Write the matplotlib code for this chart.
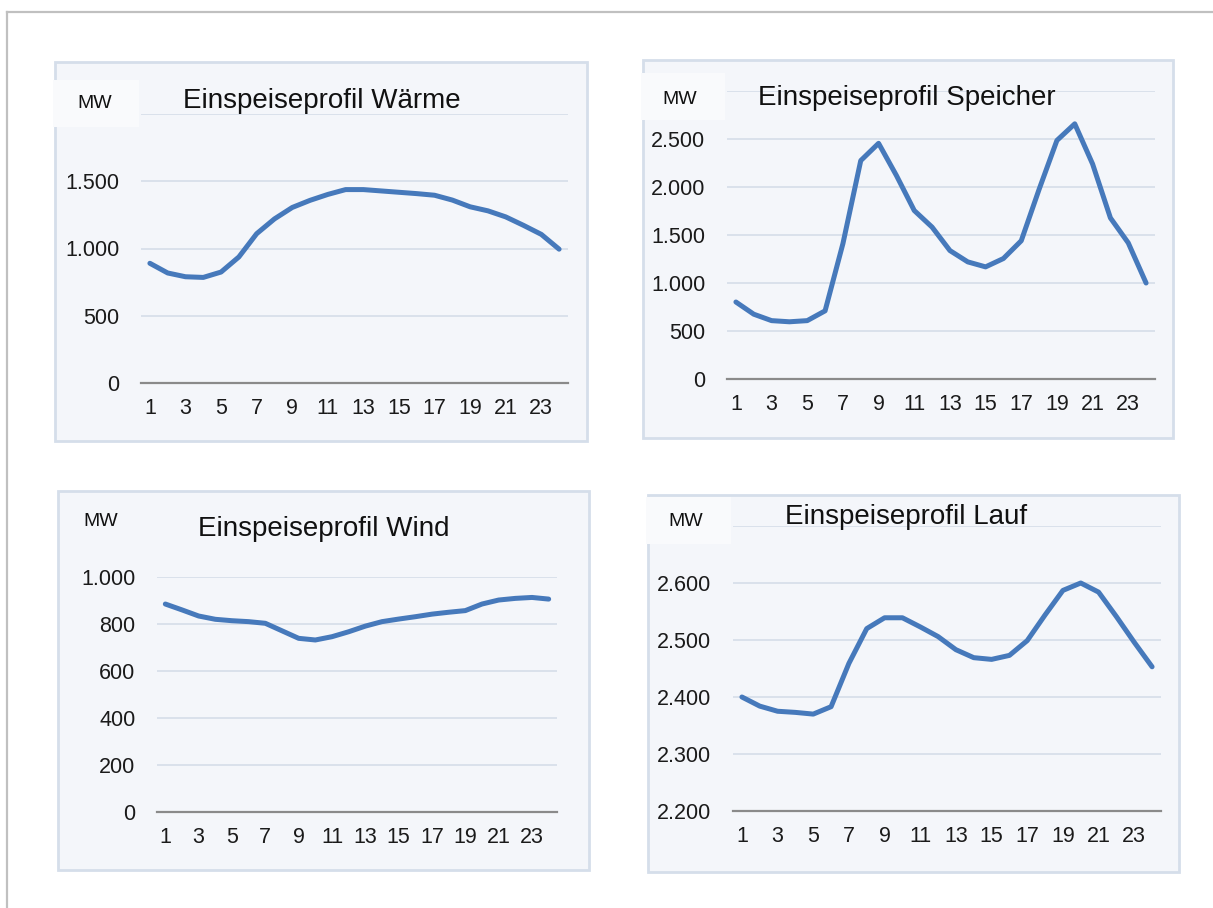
import matplotlib
matplotlib.use("Agg")
import matplotlib.pyplot as plt
from matplotlib.patches import Rectangle
from matplotlib.lines import Line2D

plt.rcParams['font.family'] = ['Liberation Sans', 'DejaVu Sans']

# ---------------- data ----------------
hours = list(range(1, 25))
hour_ticks = [1, 3, 5, 7, 9, 11, 13, 15, 17, 19, 21, 23]
hour_labels = [str(h) for h in hour_ticks]

waerme = [890, 818, 790, 785, 825, 937, 1110, 1220, 1305, 1358, 1402, 1438,
          1438, 1428, 1418, 1408, 1396, 1360, 1310, 1280, 1235, 1172, 1105, 995]
speicher = [802, 675, 608, 596, 608, 710, 1410, 2275, 2455, 2120, 1755, 1582,
            1338, 1220, 1168, 1255, 1440, 1975, 2485, 2658, 2240, 1678, 1418, 1000]
wind = [885, 860, 834, 820, 814, 810, 803, 771, 739, 732, 746, 767,
        791, 810, 821, 831, 842, 850, 857, 885, 902, 909, 913, 906]
lauf = [2400, 2384, 2375, 2373, 2370, 2383, 2459, 2520, 2539, 2539, 2523, 2506,
        2483, 2469, 2466, 2473, 2499, 2544, 2587, 2600, 2584, 2541, 2496, 2453]

titles = ["Einspeiseprofil Wärme", "Einspeiseprofil Speicher",
          "Einspeiseprofil Wind", "Einspeiseprofil Lauf"]
unit = "MW"

waerme_yticks = [0, 500, 1000, 1500, 2000]
waerme_ylabels = ["0", "500", "1.000", "1.500", ""]
speicher_yticks = [0, 500, 1000, 1500, 2000, 2500, 3000]
speicher_ylabels = ["0", "500", "1.000", "1.500", "2.000", "2.500", ""]
wind_yticks = [0, 200, 400, 600, 800, 1000]
wind_ylabels = ["0", "200", "400", "600", "800", "1.000"]
lauf_yticks = [2200, 2300, 2400, 2500, 2600, 2700]
lauf_ylabels = ["2.200", "2.300", "2.400", "2.500", "2.600", ""]

# ---------------- layout (pixels) ----------------
W, H = 1213, 908
fig = plt.figure(figsize=(W / 100, H / 100), dpi=100)
fig.patch.set_facecolor("white")

def frac_rect(x0, y0, x1, y1):
    return [x0 / W, 1 - y1 / H, (x1 - x0) / W, (y1 - y0) / H]

LINE_C = "#4679bb"
GRID_C = "#d3dbe7"
AXIS_C = "#8a8a8a"
PANEL_BG = "#f4f6fa"
PANEL_EDGE = "#d5deea"

# outer frame lines
fig.add_artist(Line2D([7 / W, 1], [1 - 11.5 / H, 1 - 11.5 / H], color="#c0c0c0", lw=1.6,
                      transform=fig.transFigure, zorder=-3))
fig.add_artist(Line2D([7 / W, 7 / W], [0, 1 - 11.5 / H], color="#c0c0c0", lw=1.6,
                      transform=fig.transFigure, zorder=-3))

panels = [
    dict(box=(55, 62, 587, 441), ax=(141, 114, 568, 383), data=waerme,
         yt=waerme_yticks, yl=waerme_ylabels, title_xy=(183, 101), mw_xy=(77, 104),
         white=(53, 80, 139, 127)),
    dict(box=(643, 60, 1173, 438), ax=(727, 91, 1155, 379), data=speicher,
         yt=speicher_yticks, yl=speicher_ylabels, title_xy=(758, 98), mw_xy=(662, 99),
         white=(641, 73, 725, 120)),
    dict(box=(58, 491, 589, 870), ax=(157, 577, 557, 812), data=wind,
         yt=wind_yticks, yl=wind_ylabels, title_xy=(198, 529), mw_xy=(83, 521),
         white=None),
    dict(box=(648, 495, 1179, 872), ax=(733, 526, 1161, 811), data=lauf,
         yt=lauf_yticks, yl=lauf_ylabels, title_xy=(785, 517), mw_xy=(668, 522),
         white=(646, 497, 731, 544)),
]

for p, title in zip(panels, titles):
    x0, y0, x1, y1 = p["box"]
    fig.add_artist(Rectangle((x0 / W, 1 - y1 / H), (x1 - x0) / W, (y1 - y0) / H,
                             transform=fig.transFigure, facecolor=PANEL_BG,
                             edgecolor=PANEL_EDGE, lw=2.0, zorder=-2))
    if p["white"] is not None:
        wx0, wy0, wx1, wy1 = p["white"]
        fig.add_artist(Rectangle((wx0 / W, 1 - wy1 / H), (wx1 - wx0) / W, (wy1 - wy0) / H,
                                 transform=fig.transFigure, facecolor="#f9fafc",
                                 edgecolor="none", lw=0, zorder=-1))

    ax = fig.add_axes(frac_rect(*p["ax"]))
    ax.patch.set_alpha(0)
    ax.plot(hours, p["data"], color=LINE_C, lw=3.6,
            solid_joinstyle="round", solid_capstyle="round", zorder=3)
    ax.set_xlim(0.5, 24.5)
    ax.set_ylim(p["yt"][0], p["yt"][-1])
    ax.set_yticks(p["yt"])
    ax.set_yticklabels(p["yl"])
    ax.set_xticks(hour_ticks)
    ax.set_xticklabels(hour_labels)
    ax.tick_params(axis="both", length=0, labelsize=15.5, colors="#1a1a1a")
    ax.tick_params(axis="y", pad=15.5)
    ax.tick_params(axis="x", pad=11)
    ax.grid(axis="y", color=GRID_C, lw=1.1, zorder=1)
    ax.set_axisbelow(True)
    for s in ["top", "right", "left"]:
        ax.spines[s].set_visible(False)
    ax.spines["bottom"].set_color(AXIS_C)
    ax.spines["bottom"].set_linewidth(1.6)
    ax.spines["bottom"].set_zorder(2)

    tx, ty = p["title_xy"]
    fig.text(tx / W, 1 - ty / H, title, fontsize=20, ha="left", va="center",
             color="#111111")
    mx, my = p["mw_xy"]
    fig.text(mx / W, 1 - my / H, unit, fontsize=14, ha="left", va="center",
             color="#111111")

fig.savefig("out.png", dpi=100)
